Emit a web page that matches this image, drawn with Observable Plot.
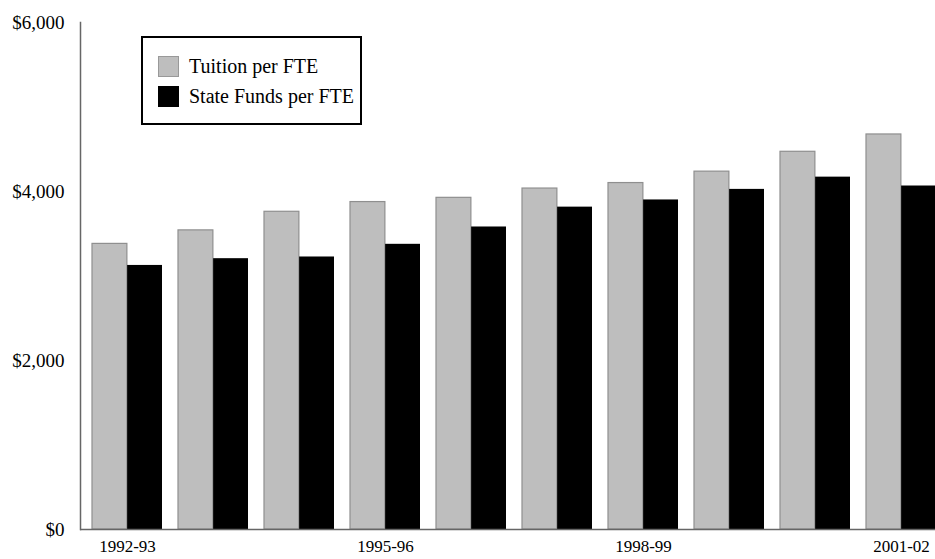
<!DOCTYPE html>
<html>
<head>
<meta charset="utf-8">
<script src="https://cdn.jsdelivr.net/npm/d3@7"></script>
<script src="https://cdn.jsdelivr.net/npm/@observablehq/plot@0.6"></script>
<style>
  html, body { margin: 0; padding: 0; background: #fff; }
  #wrap { position: relative; width: 935px; height: 559px; font-family: "Liberation Serif", "DejaVu Serif", serif; }
  #legend { position: absolute; left: 141px; top: 36px; width: 217px; height: 85px; border: 2px solid #000; background: #fff; }
  .item { position: absolute; left: 15px; display: flex; align-items: center; font-size: 20px; color: #000; }
  .sw { width: 21px; height: 21px; margin-right: 10px; box-sizing: border-box; }
</style>
</head>
<body>
<div id="wrap"></div>
<script>
const years = ["1992-93","1993-94","1994-95","1995-96","1996-97","1997-98","1998-99","1999-00","2000-01","2001-02"];
const tuition = [3380, 3540, 3760, 3875, 3925, 4035, 4100, 4235, 4470, 4675];
const stateFunds = [3125, 3205, 3225, 3375, 3580, 3815, 3900, 4025, 4170, 4065];
const seriesNames = ["Tuition per FTE", "State Funds per FTE"];
const seriesColors = ["#bebebe", "#000000"];
const xTickLabels = ["1992-93", "1995-96", "1998-99", "2001-02"];
const yTicks = [0, 2000, 4000, 6000];

const rows = years.flatMap((y, i) => [
  {year: y, series: seriesNames[0], value: tuition[i]},
  {year: y, series: seriesNames[1], value: stateFunds[i]}
]);

const xOpts = {type: "band", domain: years, range: [80, 948], paddingInner: 0.19, paddingOuter: 0.1, align: 0.5};
const half = Plot.scale({x: xOpts}).bandwidth / 2;

const fmt = d => "$" + d3.format(",")(d);

const chart = Plot.plot({
  width: 935,
  height: 559,
  marginTop: 22,
  marginBottom: 30,
  marginLeft: 80,
  marginRight: 0,
  style: {fontFamily: "'Liberation Serif', 'DejaVu Serif', serif", background: "#fff", overflow: "hidden"},
  x: {...xOpts, axis: null, label: null},
  y: {domain: [0, 6000], axis: null, label: null},
  marks: [
    Plot.barY(rows.filter(d => d.series === seriesNames[0]), {x: "year", y: "value", fill: seriesColors[0], stroke: "#8f8f8f", strokeWidth: 1.2, insetRight: half}),
    Plot.barY(rows.filter(d => d.series === seriesNames[1]), {x: "year", y: "value", fill: seriesColors[1], insetLeft: half}),
    Plot.ruleY([0], {stroke: "#666", strokeWidth: 1.5}),
    Plot.frame({anchor: "left", stroke: "#666", strokeWidth: 1.5}),
    Plot.axisY({ticks: yTicks, tickFormat: fmt, tickSize: 0, tickPadding: 16, fontSize: 19, fill: "#000", label: null}),
    Plot.axisX({ticks: xTickLabels, tickSize: 0, tickPadding: 10, fontSize: 17, fill: "#000", label: null})
  ]
});

const wrap = document.getElementById("wrap");
wrap.appendChild(chart);

const legend = document.createElement("div");
legend.id = "legend";
seriesNames.forEach((name, i) => {
  const item = document.createElement("div");
  item.className = "item";
  item.style.top = (i === 0 ? 17 : 47) + "px";
  const sw = document.createElement("div");
  sw.className = "sw";
  sw.style.background = seriesColors[i];
  sw.style.border = i === 0 ? "1.5px solid #999" : "1px solid #000";
  const t = document.createElement("span");
  t.textContent = name;
  item.appendChild(sw);
  item.appendChild(t);
  legend.appendChild(item);
});
wrap.appendChild(legend);
</script>
</body>
</html>
